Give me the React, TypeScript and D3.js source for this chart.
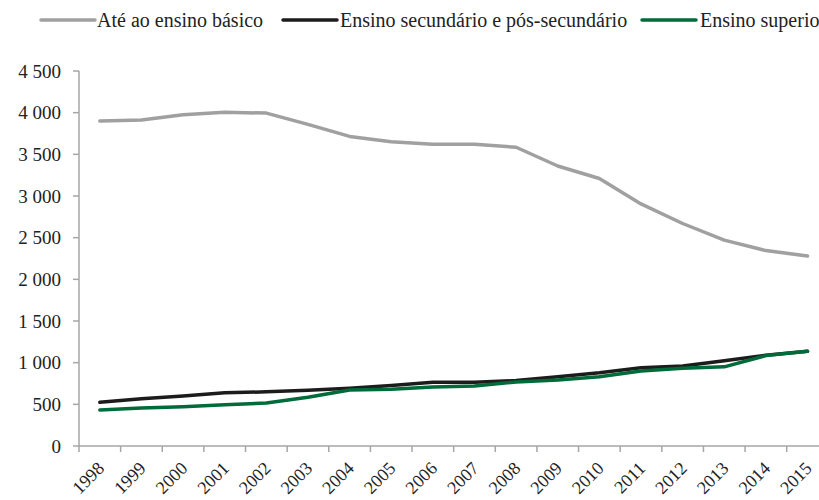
import React from "react";
import * as d3 from "d3";

const years = ["1998","1999","2000","2001","2002","2003","2004","2005","2006","2007","2008","2009","2010","2011","2012","2013","2014","2015"];
const basico = [3900, 3912, 3975, 4005, 3995, 3860, 3715, 3650, 3620, 3620, 3585, 3360, 3210, 2905, 2670, 2470, 2345, 2280];
const secundario = [524, 568, 600, 638, 650, 668, 692, 726, 764, 766, 785, 832, 880, 940, 960, 1024, 1090, 1136];
const superior = [432, 455, 472, 495, 515, 585, 672, 680, 708, 720, 768, 792, 830, 900, 932, 950, 1085, 1136];
const yTicks = [0, 500, 1000, 1500, 2000, 2500, 3000, 3500, 4000, 4500];
const seriesNames = ["Até ao ensino básico", "Ensino secundário e pós-secundário", "Ensino superior"];
const seriesColors = ["#a0a0a0", "#1c1c1c", "#006b3a"];

const W = 819, H = 500;
const FONT = "'Liberation Serif', 'Times New Roman', serif";

export default function App() {
  const left = 79, top = 71, bottom = 446;
  const step = 41.63;
  const x = d3.scaleBand<string>().domain(years).range([left, left + step * years.length]).padding(0);
  const y = d3.scaleLinear().domain([0, 4500]).range([bottom, top]);
  const fmt = d3.formatLocale({ thousands: " ", grouping: [3], decimal: ",", currency: ["", ""] }).format(",");
  const line = d3.line<number>().x((_, i) => (x(years[i]) as number) + x.bandwidth() / 2).y((d) => y(d));
  const series = [basico, secundario, superior];
  const axisColor = "#a6a6a6";
  const legendItems = [
    { lx: 41, tx: 97 },
    { lx: 283, tx: 340 },
    { lx: 642, tx: 700 },
  ];
  return (
    <svg width={W} height={H} style={{ position: "absolute", left: 0, top: 0, background: "#fff" }} fontFamily={FONT}>
      {legendItems.map((it, i) => (
        <g key={i}>
          <line x1={it.lx} x2={it.lx + 54} y1={20} y2={20} stroke={seriesColors[i]} strokeWidth={3.5} strokeLinecap="round" />
          <text x={it.tx} y={20} dy="0.35em" fontSize={20} fill="#222">{seriesNames[i]}</text>
        </g>
      ))}
      <line x1={left} x2={left} y1={top} y2={bottom} stroke={axisColor} strokeWidth={1.5} />
      {yTicks.map((t) => (
        <g key={t}>
          <line x1={left - 6} x2={left} y1={y(t)} y2={y(t)} stroke={axisColor} strokeWidth={1.5} />
          <text x={61} y={y(t)} dy="0.35em" textAnchor="end" fontSize={19} fill="#222">{fmt(t)}</text>
        </g>
      ))}
      <line x1={left} x2={W} y1={bottom} y2={bottom} stroke={axisColor} strokeWidth={1.5} />
      {years.map((yr) => (
        <line key={yr} x1={x(yr) as number} x2={x(yr) as number} y1={bottom} y2={bottom + 6} stroke={axisColor} strokeWidth={1.5} />
      ))}
      {years.map((yr) => {
        const cx = (x(yr) as number) + x.bandwidth() / 2 + 1;
        const cy = 465;
        return (
          <text key={yr} x={cx} y={cy} dy="0.35em" textAnchor="end" fontSize={18} fill="#222" transform={`rotate(-45 ${cx} ${cy})`}>{yr}</text>
        );
      })}
      {series.map((s, i) => (
        <path key={i} d={line(s) || ""} fill="none" stroke={seriesColors[i]} strokeWidth={3.5} strokeLinejoin="round" strokeLinecap="round" />
      ))}
    </svg>
  );
}
